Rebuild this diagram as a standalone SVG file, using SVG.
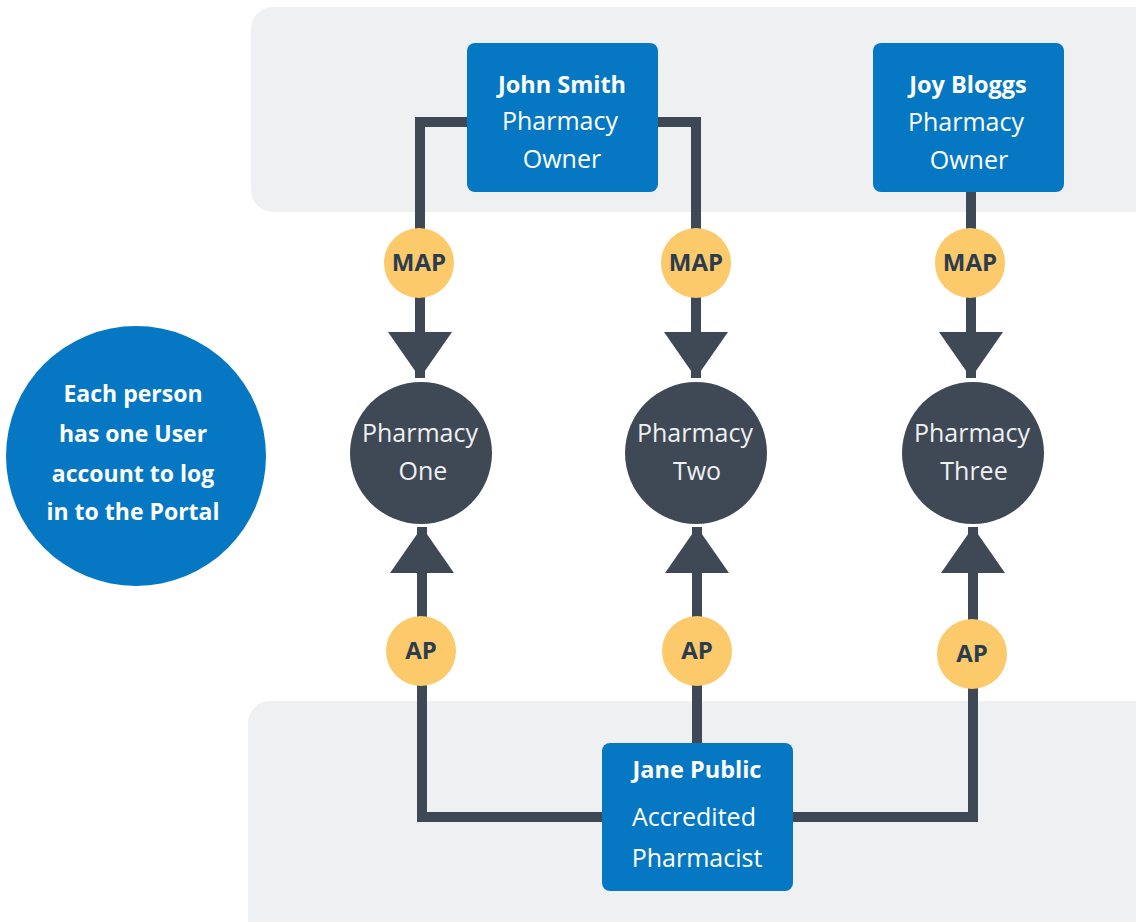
<svg xmlns="http://www.w3.org/2000/svg" width="1136" height="922" viewBox="0 0 1136 922">
<defs>
<style>
.band{fill:#eff0f2}
.box{fill:#0678c3}
.pc{fill:#3f4955}
.tag{fill:#fcc96b}
.line{fill:none;stroke:#3f4955;stroke-width:10;stroke-linejoin:miter}
text{font-family:"Open Sans","Noto Sans","Liberation Sans",sans-serif;text-anchor:middle}
.bt{font-size:23.5px;font-weight:700;fill:#ffffff}
.rt{font-size:25px;fill:#ffffff}
.pt{font-size:25px;fill:#eef0f2}
.tt{font-size:24px;font-weight:700;fill:#2b3c4e}
.nt{font-size:23px;font-weight:700;fill:#ffffff}
</style>
<marker id="arr" markerUnits="userSpaceOnUse" markerWidth="46" markerHeight="64" viewBox="0 0 46 64" refX="46" refY="32" orient="auto-start-reverse">
<path d="M0,0 L46,32 L0,64 Z" fill="#3f4955"/>
</marker>
</defs>
<rect width="1136" height="922" fill="#ffffff"/>
<rect class="band" x="251" y="7" width="920" height="205" rx="22"/>
<rect class="band" x="248" y="701" width="920" height="250" rx="22"/>
<g id="connectors">
<path class="line" d="M420 378 V122 H696 V378" marker-start="url(#arr)" marker-end="url(#arr)"/>
<path class="line" d="M971 192 V378" marker-end="url(#arr)"/>
<path class="line" d="M422 527 V817 H973 V527" marker-start="url(#arr)" marker-end="url(#arr)"/>
<path class="line" d="M697 743 V527" marker-end="url(#arr)"/>
</g>
<g id="note">
<circle cx="136" cy="456" r="130" fill="#0678c3"/>
<text class="nt" x="133" y="402">Each person</text>
<text class="nt" x="133" y="442">has one User</text>
<text class="nt" x="133" y="482">account to log</text>
<text class="nt" x="133" y="520">in to the Portal</text>
</g>
<g id="john-smith">
<rect class="box" x="467" y="43" width="191" height="149" rx="8"/>
<text class="bt" x="562" y="93">John Smith</text>
<text class="rt" x="560" y="130">Pharmacy</text>
<text class="rt" x="562" y="168">Owner</text>
</g>
<g id="joy-bloggs">
<rect class="box" x="873" y="43" width="191" height="149" rx="8"/>
<text class="bt" x="968" y="93">Joy Bloggs</text>
<text class="rt" x="966" y="131">Pharmacy</text>
<text class="rt" x="969" y="169">Owner</text>
</g>
<g id="jane-public">
<rect class="box" x="602" y="743" width="191" height="148" rx="8"/>
<text class="bt" x="697" y="778">Jane Public</text>
<text class="rt" x="694" y="826">Accredited</text>
<text class="rt" x="697" y="867">Pharmacist</text>
</g>
<g id="map-one"><circle class="tag" cx="419" cy="263" r="35"/><text class="tt" x="419" y="271">MAP</text></g>
<g id="map-two"><circle class="tag" cx="696" cy="263" r="35"/><text class="tt" x="696" y="271">MAP</text></g>
<g id="map-three"><circle class="tag" cx="970" cy="263" r="35"/><text class="tt" x="970" y="271">MAP</text></g>
<g id="ap-one"><circle class="tag" cx="421" cy="651" r="35"/><text class="tt" x="421" y="659">AP</text></g>
<g id="ap-two"><circle class="tag" cx="697" cy="651" r="35"/><text class="tt" x="697" y="659">AP</text></g>
<g id="ap-three"><circle class="tag" cx="972" cy="654" r="35"/><text class="tt" x="972" y="662">AP</text></g>
<g id="pharmacy-one">
<circle class="pc" cx="421" cy="453" r="71"/>
<text class="pt" x="420" y="442">Pharmacy</text>
<text class="pt" x="423" y="480">One</text>
</g>
<g id="pharmacy-two">
<circle class="pc" cx="696" cy="453" r="71"/>
<text class="pt" x="695" y="442">Pharmacy</text>
<text class="pt" x="697" y="480">Two</text>
</g>
<g id="pharmacy-three">
<circle class="pc" cx="973" cy="453" r="71"/>
<text class="pt" x="972" y="442">Pharmacy</text>
<text class="pt" x="974" y="480">Three</text>
</g>
</svg>
